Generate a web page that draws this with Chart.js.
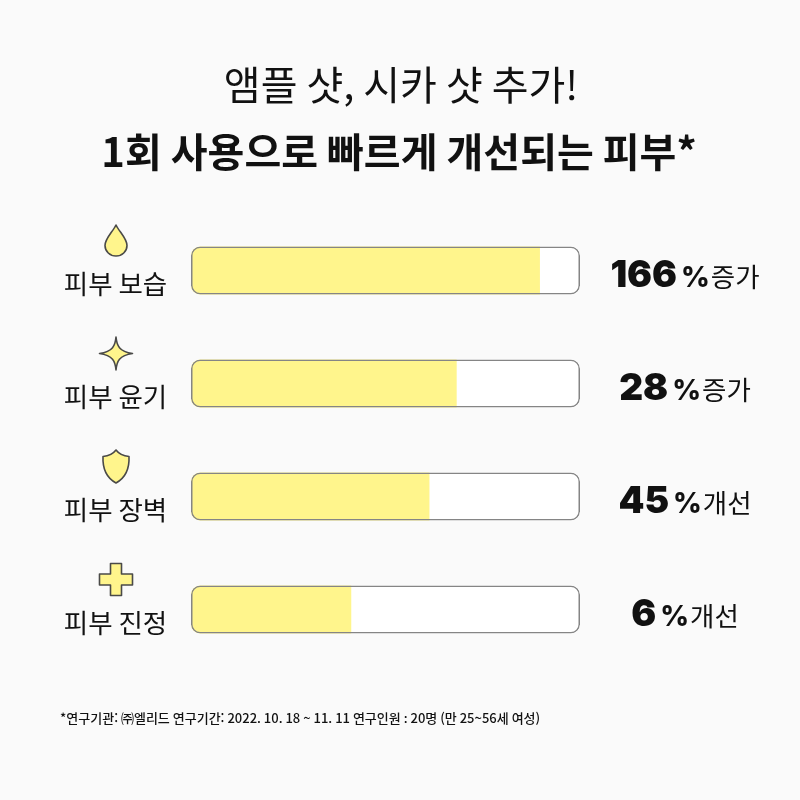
<!DOCTYPE html>
<html lang="ko">
<head>
<meta charset="utf-8">
<title>피부 개선 차트</title>
<script src="https://cdn.jsdelivr.net/npm/chart.js@4"></script>
<style>
    html, body { margin: 0; padding: 0; background: #fafafa; }
    #wrap { width: 800px; height: 800px; position: relative; }
</style>
</head>
<body>
<div id="wrap"><canvas id="chart" width="800" height="800"></canvas></div>
<script>
"use strict";

const categories = ["피부 보습", "피부 윤기", "피부 장벽", "피부 진정"];
const fillValues = [89.7, 68.3, 61.3, 41.2];
const trackValues = [100, 100, 100, 100];
const percentLabels = ["166", "28", "45", "6"];
const resultLabels = ["증가", "증가", "개선", "개선"];
const iconNames = ["drop", "star", "shield", "plus"];

const titleLine = "앰플 샷, 시카 샷 추가!";
const subtitleLine = "1회 사용으로 빠르게 개선되는 피부*";
const footnote = "*연구기관: ㈜엘리드 연구기간: 2022. 10. 18 ~ 11. 11 연구인원 : 20명 (만 25~56세 여성)";

const COLOR_BG = "#fafafa";
const COLOR_TEXT = "#111111";
const COLOR_FILL = "#fff58c";
const COLOR_TRACK = "#ffffff";
const COLOR_BORDER = "#858585";
const COLOR_ICON = "#4a4a48";
const KR = '"Noto Sans CJK KR"';

// icon outlines, centred on 0,0
const ICONS = {
    drop: "M0 -15.5 C3 -9 11 -2 11 5 C11 11 6 15.5 0 15.5 C-6 15.5 -11 11 -11 5 C-11 -2 -3 -9 0 -15.5 Z",
    star: "M0 -16.5 C0.8 -8 3 -2 16.5 0 C3 2 0.8 8 0 16.5 C-0.8 8 -3 2 -16.5 0 C-3 -2 -0.8 -8 0 -16.5 Z",
    shield: "M0 -16.5 C3 -12.5 8 -10.5 13 -10 C13.5 1 11 10.5 0 16.5 C-11 10.5 -13.5 1 -13 -10 C-8 -10.5 -3 -12.5 0 -16.5 Z",
    plus: "M-5.5 -16 H5.5 V-5.5 H16.5 V5.5 H5.5 V16 H-5.5 V5.5 H-16.5 V-5.5 H-5.5 Z"
};

const textPlugin = {
    id: "textPlugin",
    beforeDraw (chart) {
        const ctx = chart.ctx;
        ctx.save();
        ctx.fillStyle = COLOR_BG;
        ctx.fillRect(0, 0, chart.width, chart.height);
        ctx.restore();
    },
    afterDraw (chart) {
        const ctx = chart.ctx, y = chart.scales.y;

        ctx.save();
        ctx.fillStyle = COLOR_TEXT;
        ctx.textBaseline = "alphabetic";
        ctx.textAlign = "center";

        ctx.font = `400 40px ${KR}`;
        ctx.fillText(titleLine, 401, 100);
        ctx.font = `700 40px ${KR}`;
        ctx.fillText(subtitleLine, 399, 167);

        categories.forEach((name, i) => {
            const cy = y.getPixelForValue(i);

            // category label
            ctx.textAlign = "center";
            ctx.fillStyle = COLOR_TEXT;
            ctx.font = `400 26.5px ${KR}`;
            ctx.fillText(name, 115.5, cy + 23.5);

            // icon
            const path = new Path2D(ICONS[iconNames[i]]);
            ctx.save();
            ctx.translate(116, cy - 30);
            ctx.fillStyle = COLOR_FILL;
            ctx.strokeStyle = COLOR_ICON;
            ctx.lineWidth = 1.6;
            ctx.lineJoin = "round";
            ctx.fill(path);
            ctx.stroke(path);
            ctx.restore();

            // result text: number, % and word, centred as one group
            const parts = [
                {text: percentLabels[i], font: `900 37px Inter`, gap: 4},
                {text: "%", font: `800 28px Inter`, gap: 1},
                {text: resultLabels[i], font: `400 26.5px ${KR}`, gap: 0}
            ];
            let width = 0;
            parts.forEach(p => {
                ctx.font = p.font;
                p.width = ctx.measureText(p.text).width;
                width += p.width + p.gap;
            });
            let x = 685 - width / 2;
            ctx.textAlign = "left";
            parts.forEach(p => {
                ctx.font = p.font;
                ctx.fillText(p.text, x, cy + 16);
                x += p.width + p.gap;
            });
        });

        ctx.textAlign = "left";
        ctx.font = `500 13px ${KR}`;
        ctx.fillText(footnote, 60, 723);
        ctx.restore();
    }
};

new Chart(document.getElementById("chart"), {
    type: "bar",
    data: {
        labels: categories,
        datasets: [
            {
                label: "outline",
                data: trackValues,
                backgroundColor: "transparent",
                borderColor: COLOR_BORDER,
                borderWidth: 1.5,
                borderRadius: 9,
                order: 0
            },
            {
                label: "fill",
                data: fillValues,
                backgroundColor: COLOR_FILL,
                borderWidth: 0,
                borderRadius: {topLeft: 9, bottomLeft: 9, topRight: 0, bottomRight: 0},
                order: 1
            },
            {
                label: "track",
                data: trackValues,
                backgroundColor: COLOR_TRACK,
                borderWidth: 0,
                borderRadius: 9,
                order: 2
            }
        ]
    },
    options: {
        indexAxis: "y",
        responsive: false,
        animation: false,
        layout: {padding: {left: 191, right: 220, top: 214, bottom: 134}},
        datasets: {bar: {grouped: false, barThickness: 48, borderSkipped: false, inflateAmount: 0}},
        scales: {
            x: {display: false, min: 0, max: 100},
            y: {display: false}
        },
        plugins: {legend: {display: false}, tooltip: {enabled: false}}
    },
    plugins: [textPlugin]
});
</script>
</body>
</html>
